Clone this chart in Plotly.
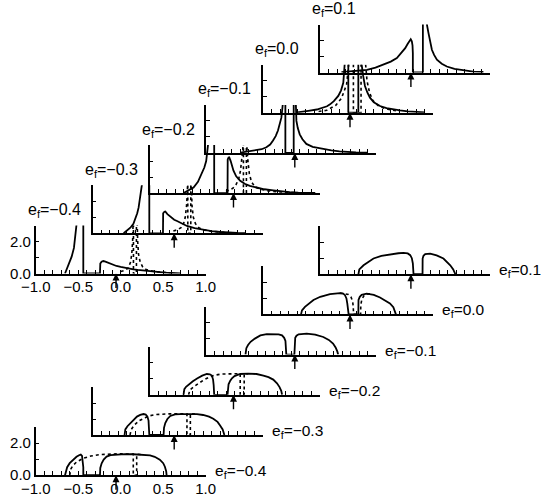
import plotly.graph_objects as go

# ---------------- data ----------------
EF_LABELS = ["−0.4", "−0.3", "−0.2", "−0.1", "0.0", "0.1"]
ARROW_X = [-0.055, -0.04, -0.012, 0.04, 0.02, 0.067]

X_TICK_VALS = [-1.0, -0.9, -0.8, -0.7, -0.6, -0.5, -0.4, -0.3, -0.2, -0.1, 0.0,
               0.1, 0.2, 0.3, 0.4, 0.5, 0.6, 0.7, 0.8, 0.9, 1.0]
X_TICK_TEXT = ["−1.0", "", "", "", "", "−0.5", "", "", "", "", "0.0",
               "", "", "", "", "0.5", "", "", "", "", "1.0"]
Y_TICK_VALS = [0, 1, 2, 3]
Y_TICK_TEXT = ["0.0", "", "2.0", ""]

# upper group (divergent spectra), one list per e_f
top_solid_x = [
    [-0.655, -0.63, -0.60, -0.577, -0.55, -0.53, -0.515, -0.49, -0.44, -0.44, -0.244, -0.24, -0.225, -0.205,
     -0.18, -0.15, -0.10, -0.05, 0.0, 0.05, 0.10, 0.15, 0.20, 0.25, 0.30, 0.35, 0.40, 0.45, 0.50, 0.55,
     0.60, 0.65, 0.70],
    [-0.635, -0.60, -0.556, -0.52, -0.498, -0.475, -0.459, -0.44, -0.43, -0.41, -0.38, -0.333, -0.333,
     -0.172, -0.17, -0.155, -0.145, -0.12, -0.08, -0.04, -0.007, 0.05, 0.11, 0.20, 0.305, 0.40, 0.50,
     0.60, 0.70, 0.80],
    [-0.60, -0.55, -0.482, -0.43, -0.384, -0.355, -0.333, -0.315, -0.305, -0.28, -0.239, -0.239, -0.082,
     -0.08, -0.07, -0.062, -0.045, -0.03, -0.012, 0.02, 0.067, 0.12, 0.18, 0.26, 0.35, 0.456, 0.55, 0.65,
     0.75, 0.85, 0.95],
    [-0.60, -0.50, -0.41, -0.35, -0.294, -0.25, -0.216, -0.185, -0.158, -0.135, -0.118, -0.10, -0.085,
     -0.071, -0.071, 0.027, 0.027, 0.04, 0.05, 0.059, 0.075, 0.098, 0.13, 0.176, 0.25, 0.37, 0.47, 0.566,
     0.66, 0.76, 0.90],
    [-0.60, -0.57, -0.47, -0.37, -0.30, -0.25, -0.215, -0.17, -0.118, -0.085, -0.059, -0.045, -0.03,
     -0.015, 0.0, 0.0, 0.118, 0.118, 0.14, 0.157, 0.175, 0.196, 0.225, 0.255, 0.30, 0.373, 0.45, 0.52,
     0.608, 0.70, 0.80, 0.90],
    [-0.75, -0.60, -0.45, -0.35, -0.255, -0.17, -0.098, -0.05, 0.0, 0.03, 0.05, 0.065, 0.078, 0.086,
     0.09, 0.09, 0.208, 0.208, 0.23, 0.255, 0.274, 0.294, 0.314, 0.34, 0.373, 0.43, 0.49, 0.58, 0.686,
     0.80, 0.92],
]
top_solid_y = [
    [0, 0.35, 0.72, 1.05, 1.6, 2.3, 3.0, 4.5, 8, 0, 0, 0.62, 0.74, 0.78,
     0.74, 0.67, 0.56, 0.47, 0.41, 0.35, 0.30, 0.26, 0.22, 0.19, 0.16, 0.13, 0.10, 0.08, 0.06, 0.045,
     0.03, 0.02, 0.01],
    [0, 0.15, 0.35, 0.6, 0.875, 1.25, 1.6, 2.2, 2.5, 3.0, 4.5, 8, 0,
     0, 1.25, 1.35, 1.36, 1.2, 1.0, 0.85, 0.77, 0.6, 0.46, 0.32, 0.2, 0.13, 0.08,
     0.04, 0.02, 0.01],
    [0, 0.15, 0.35, 0.7, 1.19, 1.6, 2.0, 2.6, 3.1, 4.5, 8, 0, 0,
     2.1, 2.22, 2.23, 2.0, 1.7, 1.4, 1.05, 0.77, 0.58, 0.45, 0.35, 0.24, 0.17, 0.10, 0.06,
     0.035, 0.02, 0.01],
    [0.02, 0.1, 0.15, 0.23, 0.35, 0.52, 0.77, 1.05, 1.4, 1.8, 2.2, 3.1, 5,
     8, 0, 0, 8, 5, 3.0, 2.0, 1.55, 1.16, 0.85, 0.56, 0.38, 0.25, 0.16, 0.10,
     0.06, 0.03, 0.01],
    [0.02, 0.05, 0.12, 0.2, 0.3, 0.4, 0.52, 0.72, 1.05, 1.4, 1.87, 2.3, 3.0,
     5, 8, 0, 0, 8, 5, 3.0, 2.3, 1.67, 1.25, 0.94, 0.65, 0.42, 0.28, 0.2,
     0.14, 0.08, 0.05, 0.02],
    [0.02, 0.1, 0.17, 0.3, 0.48, 0.68, 0.9, 1.18, 1.52, 1.8, 2.0, 2.08, 1.95, 1.7,
     1.2, 0, 0, 8, 5, 3.0, 2.46, 1.9, 1.42, 1.1, 0.8, 0.55, 0.375, 0.22, 0.125,
     0.06, 0.03],
]
top_dot_x = [
    [0.0, 0.05, 0.09, 0.115, 0.13, 0.14, 0.146, 0.15, 0.15, 0.185, 0.185, 0.19, 0.20, 0.21, 0.23,
     0.26, 0.30, 0.40, 0.50, 0.60],
    [-0.05, 0.0, 0.04, 0.07, 0.09, 0.105, 0.115, 0.12, 0.12, 0.155, 0.155, 0.16, 0.17, 0.185, 0.21,
     0.25, 0.30, 0.40, 0.50, 0.60],
    [-0.10, -0.05, -0.02, 0.02, 0.05, 0.07, 0.085, 0.097, 0.105, 0.105, 0.14, 0.14, 0.148, 0.16, 0.175,
     0.20, 0.24, 0.30, 0.40, 0.50, 0.60, 0.70],
    [],
    [-0.35, -0.254, -0.15, -0.08, -0.02, 0.01, 0.03, 0.045, 0.06, 0.06, 0.15, 0.15, 0.18, 0.20, 0.22,
     0.25, 0.29, 0.35, 0.42, 0.50, 0.60],
    [],
]
top_dot_y = [
    [0.12, 0.2, 0.35, 0.7, 1.2, 2.0, 3.2, 5, 0, 0, 5, 3.2, 2.0, 1.2, 0.7,
     0.4, 0.25, 0.12, 0.06, 0.03],
    [0.15, 0.22, 0.35, 0.6, 1.0, 1.7, 2.6, 4, 0, 0, 4, 2.6, 1.7, 1.0, 0.6,
     0.35, 0.22, 0.12, 0.07, 0.04],
    [0.1, 0.2, 0.3, 0.55, 0.9, 1.4, 2.0, 2.7, 3.5, 0, 0, 3.5, 2.7, 1.9, 1.2,
     0.7, 0.4, 0.25, 0.14, 0.08, 0.05, 0.03],
    [],
    [0.08, 0.15, 0.45, 0.9, 1.77, 2.6, 3.2, 5, 8, 0, 0, 8, 4.5, 3.0, 2.0,
     1.25, 0.75, 0.45, 0.28, 0.17, 0.1],
    [],
]

# lower group (band densities), one list per e_f
bot_solid_x = [
    [-0.655, -0.645, -0.63, -0.60, -0.558, -0.52, -0.49, -0.47, -0.455, -0.447, -0.44, -0.44, -0.244,
     -0.24, -0.224, -0.20, -0.166, -0.12, -0.047, 0.05, 0.148, 0.25, 0.345, 0.40, 0.46, 0.50, 0.52,
     0.535, 0.54],
    [-0.624, -0.615, -0.59, -0.556, -0.52, -0.478, -0.44, -0.40, -0.375, -0.355, -0.342, -0.335, -0.333,
     -0.165, -0.16, -0.145, -0.12, -0.086, -0.03, 0.03, 0.12, 0.228, 0.30, 0.37, 0.42, 0.47, 0.50,
     0.53, 0.545, 0.55],
    [-0.60, -0.59, -0.57, -0.54, -0.49, -0.44, -0.38, -0.325, -0.29, -0.266, -0.252, -0.245, -0.239,
     -0.082, -0.078, -0.07, -0.05, -0.03, 0.0, 0.067, 0.16, 0.26, 0.34, 0.40, 0.456, 0.50, 0.53, 0.55,
     0.56],
    [-0.54, -0.53, -0.51, -0.48, -0.43, -0.365, -0.29, -0.208, -0.15, -0.11, -0.085, -0.07, -0.063,
     -0.06, 0.035, 0.036, 0.045, 0.06, 0.085, 0.18, 0.28, 0.375, 0.44, 0.49, 0.52, 0.54, 0.55],
    [-0.556, -0.545, -0.51, -0.46, -0.41, -0.33, -0.215, -0.098, -0.06, -0.039, -0.022, -0.012, -0.004,
     0.004, 0.118, 0.12, 0.135, 0.157, 0.216, 0.30, 0.373, 0.43, 0.49, 0.53, 0.55, 0.56],
    [-0.55, -0.54, -0.49, -0.43, -0.373, -0.28, -0.176, -0.08, -0.02, 0.03, 0.059, 0.078, 0.09, 0.096,
     0.098, 0.204, 0.205, 0.215, 0.235, 0.294, 0.37, 0.45, 0.50, 0.53, 0.565, 0.59],
]
bot_solid_y = [
    [0, 0.3, 0.5, 0.75, 0.97, 1.15, 1.25, 1.29, 1.2, 0.95, 0.5, 0, 0,
     0.45, 0.74, 0.98, 1.16, 1.25, 1.3, 1.32, 1.31, 1.29, 1.24, 1.15, 0.97, 0.75, 0.53,
     0.25, 0],
    [0, 0.35, 0.55, 0.75, 0.95, 1.15, 1.26, 1.31, 1.28, 1.15, 0.9, 0.5, 0,
     0, 0.45, 0.75, 1.0, 1.19, 1.29, 1.31, 1.32, 1.31, 1.25, 1.15, 1.02, 0.82, 0.6,
     0.35, 0.1, 0],
    [0, 0.35, 0.5, 0.65, 0.85, 1.02, 1.2, 1.3, 1.28, 1.2, 0.95, 0.6, 0,
     0, 0.45, 0.66, 0.88, 1.03, 1.17, 1.3, 1.32, 1.3, 1.2, 1.1, 0.95, 0.72, 0.48, 0.25,
     0],
    [0, 0.4, 0.6, 0.8, 1.0, 1.2, 1.28, 1.3, 1.27, 1.2, 1.05, 0.85, 0.5,
     0, 0, 0.8, 1.05, 1.18, 1.27, 1.31, 1.25, 1.1, 0.92, 0.69, 0.45, 0.2, 0],
    [0, 0.25, 0.47, 0.7, 0.9, 1.1, 1.27, 1.33, 1.3, 1.2, 1.0, 0.69, 0.35,
     0, 0, 0.9, 1.1, 1.22, 1.3, 1.22, 1.06, 0.9, 0.69, 0.45, 0.2, 0],
    [0, 0.3, 0.56, 0.8, 0.98, 1.15, 1.25, 1.31, 1.33, 1.3, 1.19, 1.0, 0.67, 0.3,
     0, 0, 0.98, 1.15, 1.25, 1.29, 1.18, 0.98, 0.75, 0.56, 0.3, 0],
]
bot_dot_x = [
    [-0.60, -0.585, -0.56, -0.52, -0.44, -0.35, -0.244, -0.15, -0.05, 0.05, 0.148, 0.148, 0.188,
     0.188, 0.25],
    [-0.56, -0.545, -0.51, -0.45, -0.38, -0.333, -0.25, -0.165, -0.10, 0.0, 0.11, 0.11, 0.15,
     0.15, 0.228],
    [-0.54, -0.525, -0.48, -0.42, -0.365, -0.30, -0.24, -0.15, -0.05, 0.067, 0.067, 0.114,
     0.114, 0.16],
    [],
    [-0.10, -0.04, 0.0, 0.03, 0.05, 0.058, 0.062, 0.145, 0.147, 0.16, 0.185, 0.216, 0.26],
    [],
]
bot_dot_y = [
    [0, 0.4, 0.62, 0.82, 1.06, 1.2, 1.29, 1.32, 1.33, 1.33, 1.32, 0, 0,
     1.31, 1.29],
    [0, 0.35, 0.62, 0.9, 1.08, 1.2, 1.28, 1.31, 1.32, 1.32, 1.32, 0, 0,
     1.32, 1.31],
    [0, 0.3, 0.5, 0.75, 0.92, 1.1, 1.22, 1.3, 1.32, 1.32, 0, 0,
     1.32, 1.32],
    [],
    [1.33, 1.3, 1.25, 1.1, 0.85, 0.5, 0, 0, 0.6, 0.95, 1.18, 1.28, 1.28],
    [],
]

# ---------------- geometry (pixels) ----------------
FIG_W, FIG_H = 543, 500
PANEL_W, PANEL_H = 170, 48
X0, DX = 35.7, 56.9
TOP_B0, BOT_B0, DY = 273.5, 475.2, 40.2
FONT = "Liberation Sans, Arial, Helvetica, sans-serif"

fig = go.Figure()
annotations = []


def add_panel(n, left, base, sx, sy, dx, dy, arrow_x, show_labels, label, label_side):
    xa = "x" if n == 1 else f"x{n}"
    ya = "y" if n == 1 else f"y{n}"
    fig.add_trace(go.Scatter(x=sx, y=sy, xaxis=xa, yaxis=ya, mode="lines",
                             line=dict(color="black", width=1.8),
                             showlegend=False, hoverinfo="skip"))
    if dx:
        fig.add_trace(go.Scatter(x=dx, y=dy, xaxis=xa, yaxis=ya, mode="lines",
                                 line=dict(color="black", width=1.6, dash="dot"),
                                 showlegend=False, hoverinfo="skip"))
    xkey = "xaxis" if n == 1 else f"xaxis{n}"
    ykey = "yaxis" if n == 1 else f"yaxis{n}"
    fig.layout[xkey] = dict(
        domain=[left / FIG_W, (left + PANEL_W) / FIG_W], anchor=ya, range=[-1, 1],
        showline=True, linecolor="black", linewidth=1.5, ticks="inside", ticklen=4,
        tickwidth=1, tickcolor="black", tickvals=X_TICK_VALS, ticktext=X_TICK_TEXT,
        showticklabels=show_labels, showgrid=False, zeroline=False, automargin=False,
        ticklabelstandoff=-1,
        tickfont=dict(family=FONT, size=15, color="black"), fixedrange=True)
    fig.layout[ykey] = dict(
        domain=[1 - base / FIG_H, 1 - (base - PANEL_H) / FIG_H], anchor=xa, range=[0, 3],
        showline=True, linecolor="black", linewidth=1.5, ticks="inside", ticklen=4,
        tickwidth=1, tickcolor="black", tickvals=Y_TICK_VALS, ticktext=Y_TICK_TEXT,
        showticklabels=show_labels, showgrid=False, zeroline=False, automargin=False,
        tickfont=dict(family=FONT, size=15, color="black"), fixedrange=True)
    annotations.append(dict(x=arrow_x, y=0, xref=xa, yref=ya, ax=0, ay=16,
                            axref="pixel", ayref="pixel", text="", showarrow=True,
                            arrowhead=2, arrowsize=1, arrowwidth=1.4, arrowcolor="black",
                            standoff=0))
    txt = f"e<sub>f</sub>={label}"
    if label_side == "top":
        annotations.append(dict(x=(left - 9) / FIG_W, y=1 - (base - PANEL_H - 15) / FIG_H,
                                xref="paper", yref="paper", xanchor="left", yanchor="middle",
                                text=txt, showarrow=False, borderpad=0,
                                font=dict(family=FONT, size=16, color="black")))
    else:
        annotations.append(dict(x=(left + PANEL_W + 8) / FIG_W, y=1 - (base - 3.5) / FIG_H,
                                xref="paper", yref="paper", xanchor="left", yanchor="middle",
                                text=txt, showarrow=False, borderpad=0,
                                font=dict(family=FONT, size=15.5, color="black")))


n = 1
for i in range(6):
    add_panel(n, X0 + DX * i, TOP_B0 - DY * i, top_solid_x[i], top_solid_y[i],
              top_dot_x[i], top_dot_y[i], ARROW_X[i], i == 0, EF_LABELS[i], "top")
    n += 1
for i in range(6):
    add_panel(n, X0 + DX * i, BOT_B0 - DY * i, bot_solid_x[i], bot_solid_y[i],
              bot_dot_x[i], bot_dot_y[i], ARROW_X[i], i == 0, EF_LABELS[i], "right")
    n += 1

fig.update_layout(template="none", width=FIG_W, height=FIG_H, autosize=False,
                  margin=dict(l=0, r=0, t=0, b=0, autoexpand=False),
                  paper_bgcolor="white", plot_bgcolor="rgba(0,0,0,0)",
                  annotations=annotations, showlegend=False,
                  font=dict(family=FONT, size=16, color="black"))
fig.write_html("out.html")
